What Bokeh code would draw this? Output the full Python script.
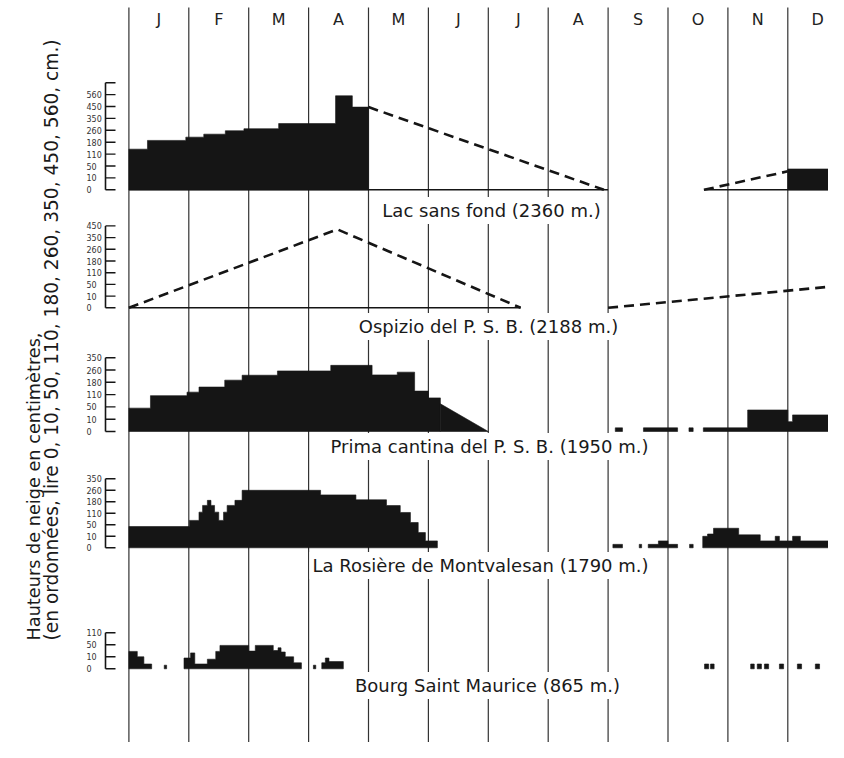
import numpy as np
from bokeh.plotting import figure
from bokeh.models import Range1d, Label
from bokeh.core.properties import value
from bokeh.embed import file_html
from bokeh.resources import INLINE

# ---------------- data ----------------
MONTHS = ["J", "F", "M", "A", "M", "J", "J", "A", "S", "O", "N", "D"]
TICKS = [0, 10, 50, 110, 180, 260, 350, 450, 560]
STATIONS = ["Lac sans fond (2360 m.)",
            "Ospizio del P. S. B. (2188 m.)",
            "Prima cantina del P. S. B. (1950 m.)",
            "La Rosière de Montvalesan (1790 m.)",
            "Bourg Saint Maurice (865 m.)"]
AXIS_TICKS = [TICKS[:9], TICKS[:8], TICKS[:7], TICKS[:7], TICKS[:4]]
YTITLE_1 = "Hauteurs de neige en centimètres,"
YTITLE_2 = "(en ordonnées, lire 0, 10, 50, 110, 180, 260, 350, 450, 560, cm.)"

# Lac sans fond: measured steps (month start, month end, cm)
LAC_X0 = [0.00, 0.31, 0.95, 1.25, 1.61, 1.92, 2.50, 3.45, 3.73, 11.00]
LAC_X1 = [0.31, 0.95, 1.25, 1.61, 1.92, 2.50, 3.45, 3.73, 4.00, 12.00]
LAC_CM = [139, 192, 214, 234, 257, 272, 311, 549, 445, 40]
LAC_EST_X = [[4.00, 7.93], [9.60, 11.00]]
LAC_EST_CM = [[445, 0], [0, 32]]
LAC_BASE_X = [[0.00, 8.00], [9.60, 12.00]]

# Ospizio del P. S. B.: estimated only (dashed)
OSP_EST_X = [[0.00, 3.48, 6.54], [8.00, 12.00]]
OSP_EST_CM = [[0, 420, 0], [0, 48]]
OSP_BASE_X = [[0.00, 6.54]]

# Prima cantina del P. S. B.
PRI_X0 = [0.00, 0.36, 0.97, 1.17, 1.60, 1.89, 2.48, 3.37, 4.06, 4.48, 4.77, 5.00,
          8.12, 8.59, 9.35, 9.59, 10.33, 11.00, 11.08]
PRI_X1 = [0.36, 0.97, 1.17, 1.60, 1.89, 2.48, 3.37, 4.06, 4.48, 4.77, 5.00, 5.20,
          8.24, 9.16, 9.42, 10.33, 11.00, 11.08, 12.00]
PRI_CM = [46, 105, 124, 153, 194, 226, 254, 294, 228, 246, 130, 94,
          3, 3, 3, 3, 40, 8, 24]
PRI_MELT_X = [5.20, 6.00]
PRI_MELT_CM = [65, 0]

# La Rosière de Montvalesan
ROS_X0 = [0.00, 1.01, 1.17, 1.23, 1.31, 1.37, 1.43, 1.50, 1.58, 1.64, 1.77, 1.89,
          3.20, 3.79, 4.30, 4.53, 4.70, 4.83, 4.95,
          8.08, 8.52, 8.67, 8.84, 9.00, 9.36, 9.58, 9.66, 9.76, 10.18, 10.54,
          10.79, 10.86, 11.08, 11.21, 11.68, 11.83]
ROS_X1 = [1.01, 1.17, 1.23, 1.31, 1.37, 1.43, 1.50, 1.58, 1.64, 1.77, 1.89, 3.20,
          3.79, 4.30, 4.53, 4.70, 4.83, 4.95, 5.15,
          8.24, 8.56, 8.84, 9.00, 9.16, 9.42, 9.66, 9.76, 10.18, 10.54, 10.79,
          10.86, 11.08, 11.21, 11.68, 11.83, 12.00]
ROS_CM = [44, 73, 117, 158, 190, 158, 117, 73, 117, 158, 190, 260,
          228, 194, 157, 115, 62, 23, 6,
          3, 3, 3, 6, 3, 3, 10, 18, 38, 15, 6,
          10, 6, 10, 6, 15, 55]

# Bourg Saint Maurice
BSM_X0 = [0.00, 0.14, 0.25, 0.59, 0.92, 1.03, 1.10, 1.31, 1.45, 1.52, 2.00, 2.11,
          2.41, 2.49, 2.54, 2.61, 2.75, 3.08, 3.22, 3.28, 3.34,
          9.61, 9.71, 10.38, 10.49, 10.61, 10.86, 11.16, 11.46, 11.83]
BSM_X1 = [0.14, 0.25, 0.38, 0.63, 1.03, 1.10, 1.31, 1.45, 1.52, 2.00, 2.11, 2.41,
          2.49, 2.54, 2.61, 2.75, 2.88, 3.12, 3.28, 3.34, 3.58,
          9.68, 9.77, 10.44, 10.56, 10.68, 10.93, 11.23, 11.53, 12.00]
BSM_CM = [28, 10, 4, 3, 9, 23, 4, 8, 28, 48, 29, 48,
          31, 40, 26, 10, 5, 3, 5, 9, 6,
          4, 4, 4, 4, 4, 4, 4, 4, 5]

# ---------------- layout ----------------
W, H = 828, 742
X0_PX, MONTH_PX = 128.4, 59.9          # Jan 1 position and month width (px)
PANEL_BASE_PX = [189.3, 307.3, 431.0, 547.3, 668.3]  # baselines, px from top
BASE = [H - b for b in PANEL_BASE_PX]
STEP = [11.9, 11.7, 12.3, 11.5, 12.0]       # px per tick step
INK = "#151515"
FONT = value("DejaVu Sans")


def mx(px):
    return (px - X0_PX) / MONTH_PX


def lev(v):
    return np.interp(np.asarray(v, dtype=float), TICKS, np.arange(len(TICKS)))


def yv(i, v):
    return BASE[i] + STEP[i] * lev(v)


p = figure(width=W, height=H,
           x_range=Range1d(-X0_PX / MONTH_PX, (W - X0_PX) / MONTH_PX),
           y_range=Range1d(0, H),
           output_backend="svg", toolbar_location=None, min_border=0,
           x_axis_location=None, y_axis_location=None)
p.grid.visible = False
p.outline_line_color = None
p.background_fill_color = "white"
p.border_fill_color = "white"

# month separators
ks = list(range(13))
p.segment(x0=ks, y0=[-10] * 13, x1=ks, y1=[H - 7] * 13, line_color="#333333", line_width=1.2)

# month letters
p.text(x=[i + 0.5 for i in range(12)], y=[H - 19] * 12, text=MONTHS,
       text_font=FONT, text_font_size="16px", text_align="center",
       text_baseline="middle", text_color="#222222")


def bars(i, x0, x1, cm):
    """Merge contiguous steps into one outline polygon each (no seams)."""
    tops = list(yv(i, cm))
    xs_all, ys_all = [], []
    k, n = 0, len(x0)
    while k < n:
        xs, ys = [x0[k]], [BASE[i]]
        j = k
        while True:
            xs += [x0[j], x1[j]]
            ys += [tops[j], tops[j]]
            if j + 1 < n and abs(x0[j + 1] - x1[j]) < 1e-9:
                j += 1
            else:
                break
        xs.append(x1[j])
        ys.append(BASE[i])
        xs_all.append(xs)
        ys_all.append(ys)
        k = j + 1
    p.patches(xs=xs_all, ys=ys_all, fill_color=INK, line_color=INK, line_width=0.6)


def dashed(i, xs, cms):
    for xx, cc in zip(xs, cms):
        p.line(x=xx, y=list(yv(i, cc)), line_color=INK, line_width=2.6,
               line_dash="10 6")


def baseline(i, xs):
    for xx in xs:
        p.line(x=xx, y=[BASE[i]] * 2, line_color=INK, line_width=1.6)


# panel 1
baseline(0, LAC_BASE_X)
bars(0, LAC_X0, LAC_X1, LAC_CM)
dashed(0, LAC_EST_X, LAC_EST_CM)
# panel 2
baseline(1, OSP_BASE_X)
dashed(1, OSP_EST_X, OSP_EST_CM)
# panel 3
bars(2, PRI_X0, PRI_X1, PRI_CM)
p.patch(x=[PRI_MELT_X[0], PRI_MELT_X[0], PRI_MELT_X[1]],
        y=[BASE[2], float(yv(2, PRI_MELT_CM[0])), float(yv(2, PRI_MELT_CM[1]))],
        fill_color=INK, line_color=INK, line_width=0.6)
# panel 4
bars(3, ROS_X0, ROS_X1, ROS_CM)
# panel 5
bars(4, BSM_X0, BSM_X1, BSM_CM)

# axis brackets with non-linear ticks
AX_X, TK_X, LB_X = mx(105), mx(115), mx(86)
for i, tks in enumerate(AXIS_TICKS):
    ys = list(yv(i, tks))
    top = ys[-1] + (STEP[i] if i == 0 else 0)
    p.line(x=[AX_X, AX_X], y=[BASE[i], top], line_color=INK, line_width=1.6)
    tys = ys + ([top] if i == 0 else [])
    p.segment(x0=[AX_X] * len(tys), y0=tys, x1=[TK_X] * len(tys), y1=tys,
              line_color=INK, line_width=1.4)
    p.text(x=[LB_X] * len(tks), y=ys, text=[str(t) for t in tks],
           text_font=FONT, text_font_size="8px", text_align="left",
           text_baseline="middle", text_color="#333333")

# station titles
TITLE_X = [491, 488, 489, 480, 487]
TITLE_Y = [210, 326, 446, 565, 685]
for name, tx, ty in zip(STATIONS, TITLE_X, TITLE_Y):
    p.add_layout(Label(x=mx(tx), y=H - ty, text=name,
                       text_font="DejaVu Sans", text_font_size="18px",
                       text_align="center", text_baseline="middle",
                       text_color="#1a1a1a", background_fill_color="white",
                       padding=3))

# rotated y title (two lines)
for txt, cx, fs in ((YTITLE_1, 33, "17.7px"), (YTITLE_2, 51, "18.6px")):
    p.add_layout(Label(x=mx(cx), y=H - 640, text=txt, angle=90,
                       angle_units="deg", text_font="DejaVu Sans",
                       text_font_size=fs, text_align="left",
                       text_baseline="middle", text_color="#1a1a1a"))

open("out.html", "w").write(file_html(p, INLINE))
